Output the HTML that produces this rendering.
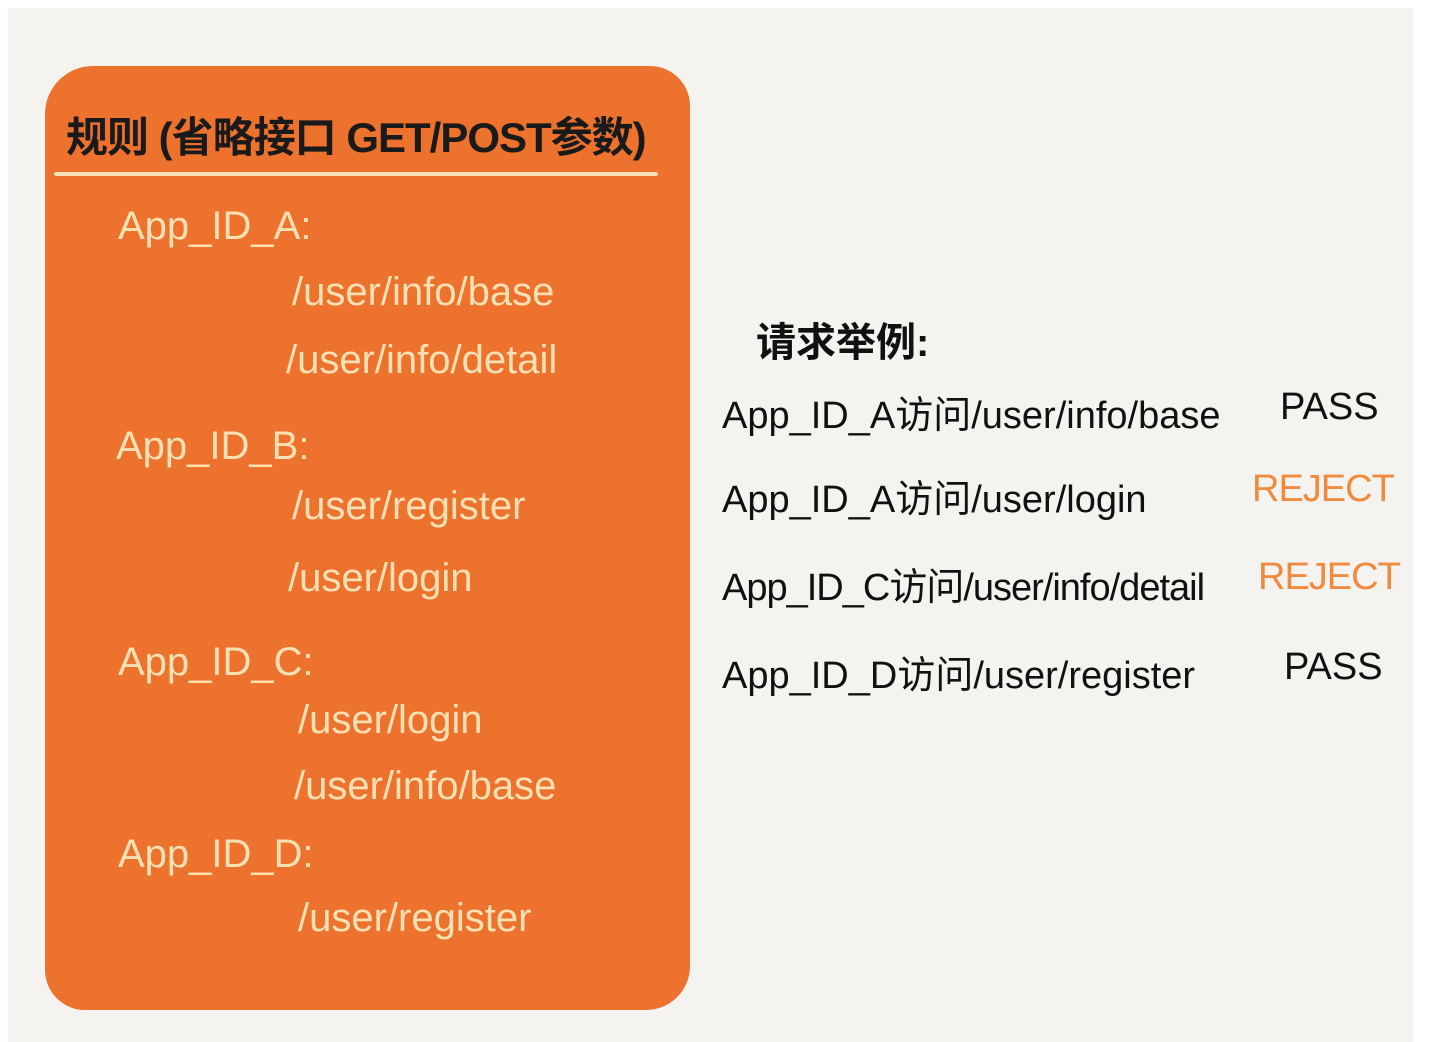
<!DOCTYPE html>
<html><head><meta charset="utf-8"><style>
body{margin:0;width:1432px;height:1042px;background:#fff;position:relative;overflow:hidden;font-family:"Liberation Sans","Noto Sans CJK SC",sans-serif;}
.bg{position:absolute;left:8px;top:8px;width:1405px;height:1034px;background:#f4f3ef;}
.card{position:absolute;left:45px;top:66px;width:645px;height:944px;background:#ec722e;border-radius:48px 40px 44px 40px;}
.t{position:absolute;white-space:nowrap;}
.c{color:#fbe0b4;font-size:40px;}
.k{color:#111;font-size:38px;}
.r{color:#f08a3e;font-size:38px;letter-spacing:-1px;}
.hl{position:absolute;left:54px;top:172px;width:604px;height:4px;background:#fbe0b4;border-radius:2px;}
</style></head><body>
<div class="bg"></div>
<div class="card"></div>
<div class="t" style="left:66px;top:104px;font-size:42px;font-weight:bold;color:#1a1a1a;letter-spacing:-1px">规则 (省略接口 GET/POST参数)</div>
<div class="hl"></div>
<div class="t c" style="left:118px;top:204px">App_ID_A:</div>
<div class="t c" style="left:292px;top:270px">/user/info/base</div>
<div class="t c" style="left:286px;top:338px">/user/info/detail</div>
<div class="t c" style="left:116px;top:424px">App_ID_B:</div>
<div class="t c" style="left:292px;top:484px">/user/register</div>
<div class="t c" style="left:288px;top:556px">/user/login</div>
<div class="t c" style="left:118px;top:640px">App_ID_C:</div>
<div class="t c" style="left:298px;top:698px">/user/login</div>
<div class="t c" style="left:294px;top:764px">/user/info/base</div>
<div class="t c" style="left:118px;top:832px">App_ID_D:</div>
<div class="t c" style="left:298px;top:896px">/user/register</div>
<div class="t k" style="left:756px;top:310px;font-weight:bold;font-size:40px">请求举例:</div>
<div class="t k" style="left:722px;top:384px">App_ID_A访问/user/info/base</div>
<div class="t k" style="left:1280px;top:386px">PASS</div>
<div class="t k" style="left:722px;top:468px">App_ID_A访问/user/login</div>
<div class="t r" style="left:1252px;top:468px">REJECT</div>
<div class="t k" style="left:722px;top:556px;letter-spacing:-1px">App_ID_C访问/user/info/detail</div>
<div class="t r" style="left:1258px;top:556px">REJECT</div>
<div class="t k" style="left:722px;top:644px">App_ID_D访问/user/register</div>
<div class="t k" style="left:1284px;top:646px">PASS</div>
</body></html>
